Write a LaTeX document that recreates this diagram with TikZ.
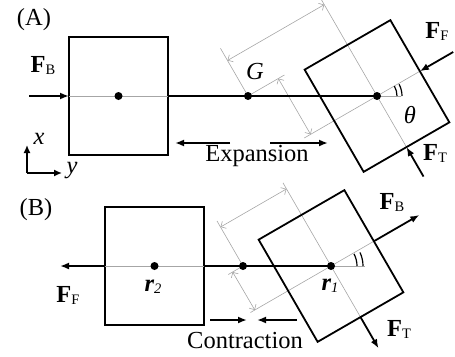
\documentclass[tikz,border=0pt]{standalone}
\usepackage{fontspec}
\setmainfont{Liberation Serif}
\usetikzlibrary{arrows.meta,calc}
\newcommand{\mysub}[1]{\raisebox{-2pt}{\fontsize{14.5}{14.5}\selectfont #1}}
\tikzset{
  box/.style={draw, line width=1.8pt, minimum width=99pt, minimum height=118pt, inner sep=0pt, outer sep=0pt},
  thk/.style={line width=1.8pt},
  force/.style={line width=1.8pt, -{Latex[length=9pt,width=7pt]}},
  guide/.style={draw=black!35, line width=0.6pt},
  dim/.style={guide, {Straight Barb[length=4pt,width=8pt]}-{Straight Barb[length=4pt,width=8pt]}},
  angmark/.style={draw=black, line width=1.2pt},
  dot/.style={circle, fill, inner sep=0pt, minimum size=8pt},
  lbl/.style={font=\fontsize{24.5}{24.5}\selectfont, inner sep=0pt},
}
\begin{document}
\begin{tikzpicture}[x=1pt,y=-1pt]
\useasboundingbox (0,0) rectangle (455,356);
\coordinate (u) at (0.866,-0.5);
\coordinate (v) at (0.5,0.866);

% ---------------- Panel A ----------------
\coordinate (LAc) at (118.5,96);
\coordinate (GA) at (248,96);
\coordinate (CA) at (377,96);
% guides
\draw[guide] ($(CA)-112*(v)$) -- ($(CA)+59*(v)$);
\draw[guide] ($(CA)-84*(u)$) -- ($(CA)+49.5*(u)$);
\draw[guide] (CA) -- ($(CA)+(24,0)$);
\draw[guide] (GA) -- ($(GA)-55*(v)$);
\draw[guide] (GA) -- ($(GA)+42*(u)$);
\draw[dim] ($(GA)-41*(v)$) -- ($(CA)-105.5*(v)$);
\draw[dim] ($(GA)+35*(u)$) -- ($(CA)-76.7*(u)$);
\draw[angmark] ($(CA)+(20,0)$) arc[start angle=0, end angle=30, radius=20pt];
\draw[angmark] ($(CA)+(25,0)$) arc[start angle=0, end angle=28, radius=25pt];
% boxes
\node[box] (LA) at (LAc) {};
\draw[guide] (LA.west) -- (LA.east);
\node[box, rotate=30] (RA) at (CA) {};
\draw[thk] (LA.east) -- (CA);
\node[dot] (dLA) at (LAc) {};
\node[dot] (dGA) at (GA) {};
\node[dot] (dCA) at (CA) {};
% forces
\coordinate (FBAs) at (29,96);
\draw[force] (FBAs) -- (LA.west);
\coordinate (FFAs) at ($(CA)+88*(u)$);
\draw[force] (FFAs) -- (RA.east);
\coordinate (FTAs) at ($(CA)+93*(v)$);
\draw[force] (FTAs) -- (RA.south);
% axes
\coordinate (ax0) at (27,173);
\coordinate (axx) at (27,145);
\coordinate (axy) at (62,173);
\draw[line width=1.5pt, -{Latex[length=8pt,width=7pt]}] (ax0) -- (axx);
\draw[line width=1.5pt, -{Latex[length=8pt,width=7pt]}] (ax0) -- (axy);
% expansion
\coordinate (ex1s) at (230,143); \coordinate (ex1e) at (175,143);
\coordinate (ex2s) at (270,143); \coordinate (ex2e) at (328,143);
\draw[force] (ex1s) -- (ex1e);
\draw[force] (ex2s) -- (ex2e);
% labels
\node[lbl] (tA) at (34,20) {(A)};
\node[lbl] (tFBA) at (43,65) {\textbf{F}\mysub{B}};
\node[lbl] (tFFA) at (437,31) {\textbf{F}\mysub{F}};
\node[lbl] (tFTA) at (435,153) {\textbf{F}\mysub{T}};
\node[lbl] (tth) at (410,115) {\textit{θ}};
\node[lbl] (tG) at (255,71) {\textit{G}};
\node[lbl] (tx) at (39,139) {\textit{x}};
\node[lbl] (ty) at (72,171) {\textit{y}};
\node[lbl] (tex) at (257,156) {Expansion};

% ---------------- Panel B ----------------
\coordinate (LBc) at (154.5,266);
\coordinate (GB) at (243,266);
\coordinate (CB) at (331,266);
\draw[guide] ($(CB)-96*(v)$) -- ($(CB)+59*(v)$);
\draw[guide] ($(CB)-93*(u)$) -- ($(CB)+49.5*(u)$);
\draw[guide] (CB) -- ($(CB)+(34,0)$);
\draw[guide] (GB) -- ($(GB)-52*(v)$);
\draw[guide] (GB) -- ($(GB)-17*(u)$);
\draw[dim] ($(GB)-45*(v)$) -- ($(CB)-89*(v)$);
\draw[dim] ($(GB)-12*(u)$) -- ($(CB)-88*(u)$);
\draw[angmark] ($(CB)+(26,0)$) arc[start angle=0, end angle=28, radius=26pt];
\draw[angmark] ($(CB)+(32,0)$) arc[start angle=0, end angle=25, radius=32pt];
\node[box] (LB) at (LBc) {};
\draw[guide] (LB.west) -- (LB.east);
\node[box, rotate=30] (RB) at (CB) {};
\draw[thk] (LB.east) -- (CB);
\node[dot] (dLB) at (LBc) {};
\node[dot] (dGB) at (GB) {};
\node[dot] (dCB) at (CB) {};
\coordinate (FFBe) at (60,266);
\draw[force] (LB.west) -- (FFBe);
\coordinate (FBBe) at ($(CB)+102*(u)$);
\draw[force] (RB.east) -- (FBBe);
\coordinate (FTBe) at ($(CB)+95*(v)$);
\draw[force] (RB.south) -- (FTBe);
\coordinate (co1s) at (210,320); \coordinate (co1e) at (247,320);
\coordinate (co2s) at (297,320); \coordinate (co2e) at (257,320);
\draw[force] (co1s) -- (co1e);
\draw[force] (co2s) -- (co2e);
\node[lbl] (tB) at (36,210) {(B)};
\node[lbl] (tr2) at (153,287) {\textbf{\textit{r}}\mysub{\textit{2}}};
\node[lbl] (tFFB) at (68,295) {\textbf{F}\mysub{F}};
\node[lbl] (tr1) at (330,286) {\textbf{\textit{r}}\mysub{\textit{1}}};
\node[lbl] (tFBB) at (392,202) {\textbf{F}\mysub{B}};
\node[lbl] (tFTB) at (399,329) {\textbf{F}\mysub{T}};
\node[lbl] (tco) at (245,341) {Contraction};
\end{tikzpicture}
\end{document}
